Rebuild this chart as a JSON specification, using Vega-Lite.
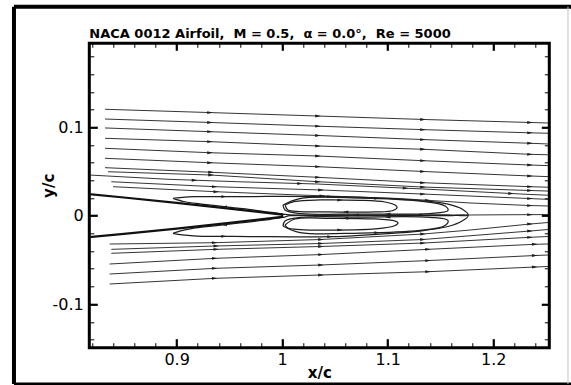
{
  "$schema": "https://vega.github.io/schema/vega-lite/v6.json",
  "width": 460,
  "height": 304.4,
  "autosize": "none",
  "padding": {"left": 89.3, "top": 43.3, "right": 21.7, "bottom": 37.3},
  "background": "#ffffff",
  "title": {
    "text": "NACA 0012 Airfoil,\u00a0 M = 0.5,\u00a0 α = 0.0°,\u00a0 Re = 5000",
    "anchor": "start",
    "frame": "group",
    "font": "DejaVu Sans",
    "fontSize": 13,
    "fontWeight": "bold",
    "color": "#000000",
    "offset": -36.4
  },
  "datasets": {
    "lines": [
      {"id": "U1", "part": "free", "i": 0, "x": 0.8321, "y": 0.1203},
      {"id": "U1", "part": "free", "i": 1, "x": 0.9316, "y": 0.1166},
      {"id": "U1", "part": "free", "i": 2, "x": 1.0340, "y": 0.1127},
      {"id": "U1", "part": "free", "i": 3, "x": 1.1335, "y": 0.1088},
      {"id": "U1", "part": "free", "i": 4, "x": 1.2349, "y": 0.1054},
      {"id": "U1", "part": "free", "i": 5, "x": 1.2520, "y": 0.1048},
      {"id": "U2", "part": "free", "i": 0, "x": 0.8321, "y": 0.1093},
      {"id": "U2", "part": "free", "i": 1, "x": 0.9316, "y": 0.1054},
      {"id": "U2", "part": "free", "i": 2, "x": 1.0340, "y": 0.1012},
      {"id": "U2", "part": "free", "i": 3, "x": 1.1335, "y": 0.0973},
      {"id": "U2", "part": "free", "i": 4, "x": 1.2349, "y": 0.0937},
      {"id": "U2", "part": "free", "i": 5, "x": 1.2520, "y": 0.0932},
      {"id": "U3", "part": "free", "i": 0, "x": 0.8321, "y": 0.0992},
      {"id": "U3", "part": "free", "i": 1, "x": 0.9316, "y": 0.0950},
      {"id": "U3", "part": "free", "i": 2, "x": 1.0340, "y": 0.0907},
      {"id": "U3", "part": "free", "i": 3, "x": 1.1335, "y": 0.0861},
      {"id": "U3", "part": "free", "i": 4, "x": 1.2349, "y": 0.0819},
      {"id": "U3", "part": "free", "i": 5, "x": 1.2520, "y": 0.0811},
      {"id": "U4", "part": "free", "i": 0, "x": 0.8321, "y": 0.0875},
      {"id": "U4", "part": "free", "i": 1, "x": 0.9316, "y": 0.0837},
      {"id": "U4", "part": "free", "i": 2, "x": 1.0340, "y": 0.0788},
      {"id": "U4", "part": "free", "i": 3, "x": 1.1335, "y": 0.0751},
      {"id": "U4", "part": "free", "i": 4, "x": 1.2349, "y": 0.0694},
      {"id": "U4", "part": "free", "i": 5, "x": 1.2520, "y": 0.0689},
      {"id": "U5", "part": "free", "i": 0, "x": 0.8321, "y": 0.0762},
      {"id": "U5", "part": "free", "i": 1, "x": 0.9316, "y": 0.0712},
      {"id": "U5", "part": "free", "i": 2, "x": 1.0340, "y": 0.0675},
      {"id": "U5", "part": "free", "i": 3, "x": 1.1335, "y": 0.0622},
      {"id": "U5", "part": "free", "i": 4, "x": 1.2349, "y": 0.0573},
      {"id": "U5", "part": "free", "i": 5, "x": 1.2520, "y": 0.0566},
      {"id": "U6", "part": "free", "i": 0, "x": 0.8321, "y": 0.0649},
      {"id": "U6", "part": "free", "i": 1, "x": 0.9316, "y": 0.0599},
      {"id": "U6", "part": "free", "i": 2, "x": 1.0340, "y": 0.0554},
      {"id": "U6", "part": "free", "i": 3, "x": 1.1335, "y": 0.0500},
      {"id": "U6", "part": "free", "i": 4, "x": 1.2349, "y": 0.0449},
      {"id": "U6", "part": "free", "i": 5, "x": 1.2520, "y": 0.0442},
      {"id": "U7", "part": "free", "i": 0, "x": 0.8321, "y": 0.0543},
      {"id": "U7", "part": "free", "i": 1, "x": 0.9326, "y": 0.0491},
      {"id": "U7", "part": "free", "i": 2, "x": 1.0340, "y": 0.0434},
      {"id": "U7", "part": "free", "i": 3, "x": 1.1335, "y": 0.0373},
      {"id": "U7", "part": "free", "i": 4, "x": 1.2349, "y": 0.0328},
      {"id": "U7", "part": "free", "i": 5, "x": 1.2520, "y": 0.0322},
      {"id": "U8", "part": "free", "i": 0, "x": 0.8349, "y": 0.0497},
      {"id": "U8", "part": "free", "i": 1, "x": 0.9326, "y": 0.0460},
      {"id": "U8", "part": "free", "i": 2, "x": 1.0340, "y": 0.0384},
      {"id": "U8", "part": "free", "i": 3, "x": 1.1335, "y": 0.0324},
      {"id": "U8", "part": "free", "i": 4, "x": 1.2349, "y": 0.0285},
      {"id": "U8", "part": "free", "i": 5, "x": 1.2520, "y": 0.0279},
      {"id": "U9", "part": "free", "i": 0, "x": 0.8172, "y": 0.0460},
      {"id": "U9", "part": "free", "i": 1, "x": 0.8918, "y": 0.0412},
      {"id": "U9", "part": "free", "i": 2, "x": 0.9581, "y": 0.0384},
      {"id": "U9", "part": "free", "i": 3, "x": 1.0340, "y": 0.0358},
      {"id": "U9", "part": "free", "i": 4, "x": 1.1335, "y": 0.0302},
      {"id": "U9", "part": "free", "i": 5, "x": 1.2349, "y": 0.0240},
      {"id": "U9", "part": "free", "i": 6, "x": 1.2520, "y": 0.0232},
      {"id": "U10", "part": "free", "i": 0, "x": 0.8381, "y": 0.0384},
      {"id": "U10", "part": "free", "i": 1, "x": 0.9361, "y": 0.0328},
      {"id": "U10", "part": "free", "i": 2, "x": 1.0368, "y": 0.0291},
      {"id": "U10", "part": "free", "i": 3, "x": 1.1335, "y": 0.0245},
      {"id": "U10", "part": "free", "i": 4, "x": 1.2349, "y": 0.0194},
      {"id": "U10", "part": "free", "i": 5, "x": 1.2520, "y": 0.0185},
      {"id": "U11", "part": "free", "i": 0, "x": 0.8397, "y": 0.0328},
      {"id": "U11", "part": "free", "i": 1, "x": 0.9376, "y": 0.0271},
      {"id": "U11", "part": "free", "i": 2, "x": 1.0169, "y": 0.0234},
      {"id": "U11", "part": "free", "i": 3, "x": 1.1117, "y": 0.0194},
      {"id": "U11", "part": "free", "i": 4, "x": 1.1781, "y": 0.0144},
      {"id": "U11", "part": "free", "i": 5, "x": 1.2349, "y": 0.0115},
      {"id": "U11", "part": "free", "i": 6, "x": 1.2520, "y": 0.0110},
      {"id": "W", "part": "free", "i": 0, "x": 1.1762, "y": 0.0008},
      {"id": "W", "part": "free", "i": 1, "x": 1.2149, "y": 0.0011},
      {"id": "W", "part": "free", "i": 2, "x": 1.2520, "y": 0.0013},
      {"id": "L1", "part": "free", "i": 0, "x": 0.8365, "y": -0.0320},
      {"id": "L1", "part": "free", "i": 1, "x": 0.9361, "y": -0.0305},
      {"id": "L1", "part": "free", "i": 2, "x": 1.0368, "y": -0.0269},
      {"id": "L1", "part": "free", "i": 3, "x": 1.1335, "y": -0.0207},
      {"id": "L1", "part": "free", "i": 4, "x": 1.1781, "y": -0.0162},
      {"id": "L1", "part": "free", "i": 5, "x": 1.2349, "y": -0.0094},
      {"id": "L1", "part": "free", "i": 6, "x": 1.2520, "y": -0.0077},
      {"id": "L2", "part": "free", "i": 0, "x": 0.8381, "y": -0.0380},
      {"id": "L2", "part": "free", "i": 1, "x": 0.9376, "y": -0.0342},
      {"id": "L2", "part": "free", "i": 2, "x": 1.0368, "y": -0.0314},
      {"id": "L2", "part": "free", "i": 3, "x": 1.1335, "y": -0.0269},
      {"id": "L2", "part": "free", "i": 4, "x": 1.2349, "y": -0.0173},
      {"id": "L2", "part": "free", "i": 5, "x": 1.2520, "y": -0.0156},
      {"id": "L3", "part": "free", "i": 0, "x": 0.8381, "y": -0.0425},
      {"id": "L3", "part": "free", "i": 1, "x": 0.9376, "y": -0.0380},
      {"id": "L3", "part": "free", "i": 2, "x": 1.0368, "y": -0.0348},
      {"id": "L3", "part": "free", "i": 3, "x": 1.1335, "y": -0.0309},
      {"id": "L3", "part": "free", "i": 4, "x": 1.2349, "y": -0.0244},
      {"id": "L3", "part": "free", "i": 5, "x": 1.2520, "y": -0.0235},
      {"id": "L4", "part": "free", "i": 0, "x": 0.8365, "y": -0.0546},
      {"id": "L4", "part": "free", "i": 1, "x": 0.9361, "y": -0.0482},
      {"id": "L4", "part": "free", "i": 2, "x": 1.0368, "y": -0.0439},
      {"id": "L4", "part": "free", "i": 3, "x": 1.1383, "y": -0.0380},
      {"id": "L4", "part": "free", "i": 4, "x": 1.2394, "y": -0.0323},
      {"id": "L4", "part": "free", "i": 5, "x": 1.2520, "y": -0.0320},
      {"id": "L5", "part": "free", "i": 0, "x": 0.8365, "y": -0.0659},
      {"id": "L5", "part": "free", "i": 1, "x": 0.9361, "y": -0.0595},
      {"id": "L5", "part": "free", "i": 2, "x": 1.0368, "y": -0.0557},
      {"id": "L5", "part": "free", "i": 3, "x": 1.1383, "y": -0.0507},
      {"id": "L5", "part": "free", "i": 4, "x": 1.2394, "y": -0.0450},
      {"id": "L5", "part": "free", "i": 5, "x": 1.2520, "y": -0.0444},
      {"id": "L6", "part": "free", "i": 0, "x": 0.8365, "y": -0.0772},
      {"id": "L6", "part": "free", "i": 1, "x": 0.9361, "y": -0.0708},
      {"id": "L6", "part": "free", "i": 2, "x": 1.0368, "y": -0.0670},
      {"id": "L6", "part": "free", "i": 3, "x": 1.1383, "y": -0.0633},
      {"id": "L6", "part": "free", "i": 4, "x": 1.2394, "y": -0.0580},
      {"id": "L6", "part": "free", "i": 5, "x": 1.2520, "y": -0.0574},
      {"id": "SU", "part": "loop", "i": 0, "x": 0.8965, "y": 0.0197},
      {"id": "SU", "part": "loop", "i": 1, "x": 0.9079, "y": 0.0211},
      {"id": "SU", "part": "loop", "i": 2, "x": 0.9193, "y": 0.0215},
      {"id": "SU", "part": "loop", "i": 3, "x": 0.9695, "y": 0.0217},
      {"id": "SU", "part": "loop", "i": 4, "x": 1.0454, "y": 0.0215},
      {"id": "SU", "part": "loop", "i": 5, "x": 1.0928, "y": 0.0200},
      {"id": "SU", "part": "loop", "i": 6, "x": 1.1307, "y": 0.0172},
      {"id": "SU", "part": "loop", "i": 7, "x": 1.1572, "y": 0.0132},
      {"id": "SU", "part": "loop", "i": 8, "x": 1.1705, "y": 0.0076},
      {"id": "SU", "part": "loop", "i": 9, "x": 1.1762, "y": 0.0008},
      {"id": "SU", "part": "loop", "i": 10, "x": 1.1572, "y": 0.0010},
      {"id": "SU", "part": "loop", "i": 11, "x": 1.0928, "y": 0.0008},
      {"id": "SU", "part": "loop", "i": 12, "x": 1.0454, "y": 0.0008},
      {"id": "SU", "part": "loop", "i": 13, "x": 1.0074, "y": 0.0010},
      {"id": "SU", "part": "loop", "i": 14, "x": 1.0008, "y": 0.0019},
      {"id": "SU", "part": "loop", "i": 15, "x": 0.9695, "y": 0.0070},
      {"id": "SU", "part": "loop", "i": 16, "x": 0.9221, "y": 0.0133},
      {"id": "SU", "part": "loop", "i": 17, "x": 0.9079, "y": 0.0158},
      {"id": "SU", "part": "loop", "i": 18, "x": 0.8965, "y": 0.0197},
      {"id": "SL", "part": "loop", "i": 0, "x": 0.8965, "y": -0.0199},
      {"id": "SL", "part": "loop", "i": 1, "x": 0.9079, "y": -0.0220},
      {"id": "SL", "part": "loop", "i": 2, "x": 0.9193, "y": -0.0230},
      {"id": "SL", "part": "loop", "i": 3, "x": 0.9695, "y": -0.0235},
      {"id": "SL", "part": "loop", "i": 4, "x": 1.0454, "y": -0.0237},
      {"id": "SL", "part": "loop", "i": 5, "x": 1.0928, "y": -0.0207},
      {"id": "SL", "part": "loop", "i": 6, "x": 1.1307, "y": -0.0173},
      {"id": "SL", "part": "loop", "i": 7, "x": 1.1572, "y": -0.0122},
      {"id": "SL", "part": "loop", "i": 8, "x": 1.1705, "y": -0.0060},
      {"id": "SL", "part": "loop", "i": 9, "x": 1.1762, "y": 0.0002},
      {"id": "SL", "part": "loop", "i": 10, "x": 1.1572, "y": 0.0000},
      {"id": "SL", "part": "loop", "i": 11, "x": 1.0928, "y": 0.0002},
      {"id": "SL", "part": "loop", "i": 12, "x": 1.0454, "y": 0.0002},
      {"id": "SL", "part": "loop", "i": 13, "x": 1.0074, "y": 0.0000},
      {"id": "SL", "part": "loop", "i": 14, "x": 1.0008, "y": -0.0019},
      {"id": "SL", "part": "loop", "i": 15, "x": 0.9695, "y": -0.0070},
      {"id": "SL", "part": "loop", "i": 16, "x": 0.9221, "y": -0.0133},
      {"id": "SL", "part": "loop", "i": 17, "x": 0.9079, "y": -0.0160},
      {"id": "SL", "part": "loop", "i": 18, "x": 0.8965, "y": -0.0199},
      {"id": "VU", "part": "loop", "i": 0, "x": 1.0027, "y": 0.0121},
      {"id": "VU", "part": "loop", "i": 1, "x": 1.0122, "y": 0.0161},
      {"id": "VU", "part": "loop", "i": 2, "x": 1.0359, "y": 0.0178},
      {"id": "VU", "part": "loop", "i": 3, "x": 1.0738, "y": 0.0174},
      {"id": "VU", "part": "loop", "i": 4, "x": 1.0975, "y": 0.0155},
      {"id": "VU", "part": "loop", "i": 5, "x": 1.1070, "y": 0.0121},
      {"id": "VU", "part": "loop", "i": 6, "x": 1.1089, "y": 0.0093},
      {"id": "VU", "part": "loop", "i": 7, "x": 1.1051, "y": 0.0059},
      {"id": "VU", "part": "loop", "i": 8, "x": 1.0880, "y": 0.0042},
      {"id": "VU", "part": "loop", "i": 9, "x": 1.0454, "y": 0.0042},
      {"id": "VU", "part": "loop", "i": 10, "x": 1.0169, "y": 0.0047},
      {"id": "VU", "part": "loop", "i": 11, "x": 1.0055, "y": 0.0064},
      {"id": "VU", "part": "loop", "i": 12, "x": 1.0027, "y": 0.0121},
      {"id": "MU", "part": "loop", "i": 0, "x": 1.0008, "y": 0.0121},
      {"id": "MU", "part": "loop", "i": 1, "x": 1.0169, "y": 0.0194},
      {"id": "MU", "part": "loop", "i": 2, "x": 1.0738, "y": 0.0200},
      {"id": "MU", "part": "loop", "i": 3, "x": 1.1307, "y": 0.0165},
      {"id": "MU", "part": "loop", "i": 4, "x": 1.1544, "y": 0.0110},
      {"id": "MU", "part": "loop", "i": 5, "x": 1.1572, "y": 0.0059},
      {"id": "MU", "part": "loop", "i": 6, "x": 1.1402, "y": 0.0025},
      {"id": "MU", "part": "loop", "i": 7, "x": 1.0738, "y": 0.0019},
      {"id": "MU", "part": "loop", "i": 8, "x": 1.0169, "y": 0.0025},
      {"id": "MU", "part": "loop", "i": 9, "x": 1.0027, "y": 0.0064},
      {"id": "MU", "part": "loop", "i": 10, "x": 1.0008, "y": 0.0121},
      {"id": "VL", "part": "loop", "i": 0, "x": 1.0027, "y": -0.0105},
      {"id": "VL", "part": "loop", "i": 1, "x": 1.0122, "y": -0.0037},
      {"id": "VL", "part": "loop", "i": 2, "x": 1.0454, "y": -0.0029},
      {"id": "VL", "part": "loop", "i": 3, "x": 1.0880, "y": -0.0037},
      {"id": "VL", "part": "loop", "i": 4, "x": 1.1070, "y": -0.0060},
      {"id": "VL", "part": "loop", "i": 5, "x": 1.1098, "y": -0.0077},
      {"id": "VL", "part": "loop", "i": 6, "x": 1.1070, "y": -0.0111},
      {"id": "VL", "part": "loop", "i": 7, "x": 1.0880, "y": -0.0150},
      {"id": "VL", "part": "loop", "i": 8, "x": 1.0454, "y": -0.0162},
      {"id": "VL", "part": "loop", "i": 9, "x": 1.0169, "y": -0.0156},
      {"id": "VL", "part": "loop", "i": 10, "x": 1.0055, "y": -0.0139},
      {"id": "VL", "part": "loop", "i": 11, "x": 1.0027, "y": -0.0105},
      {"id": "ML", "part": "loop", "i": 0, "x": 1.0008, "y": -0.0116},
      {"id": "ML", "part": "loop", "i": 1, "x": 1.0169, "y": -0.0190},
      {"id": "ML", "part": "loop", "i": 2, "x": 1.0738, "y": -0.0196},
      {"id": "ML", "part": "loop", "i": 3, "x": 1.1307, "y": -0.0166},
      {"id": "ML", "part": "loop", "i": 4, "x": 1.1544, "y": -0.0111},
      {"id": "ML", "part": "loop", "i": 5, "x": 1.1572, "y": -0.0054},
      {"id": "ML", "part": "loop", "i": 6, "x": 1.1402, "y": -0.0018},
      {"id": "ML", "part": "loop", "i": 7, "x": 1.0738, "y": -0.0015},
      {"id": "ML", "part": "loop", "i": 8, "x": 1.0169, "y": -0.0020},
      {"id": "ML", "part": "loop", "i": 9, "x": 1.0027, "y": -0.0060},
      {"id": "ML", "part": "loop", "i": 10, "x": 1.0008, "y": -0.0116},
      {"id": "FOIL", "part": "airfoil", "i": 0, "x": 0.80, "y": 0.0262},
      {"id": "FOIL", "part": "airfoil", "i": 1, "x": 0.85, "y": 0.0206},
      {"id": "FOIL", "part": "airfoil", "i": 2, "x": 0.90, "y": 0.0145},
      {"id": "FOIL", "part": "airfoil", "i": 3, "x": 0.95, "y": 0.0081},
      {"id": "FOIL", "part": "airfoil", "i": 4, "x": 1.00, "y": 0.0013},
      {"id": "FOIL", "part": "airfoil", "i": 5, "x": 1.00, "y": -0.0013},
      {"id": "FOIL", "part": "airfoil", "i": 6, "x": 0.95, "y": -0.0081},
      {"id": "FOIL", "part": "airfoil", "i": 7, "x": 0.90, "y": -0.0145},
      {"id": "FOIL", "part": "airfoil", "i": 8, "x": 0.85, "y": -0.0206},
      {"id": "FOIL", "part": "airfoil", "i": 9, "x": 0.80, "y": -0.0262}
    ],
    "arrows": [
      {"x": 0.9316, "y": 0.1166, "dir": "right"}, {"x": 1.0340, "y": 0.1127, "dir": "right"}, {"x": 1.1335, "y": 0.1088, "dir": "right"}, {"x": 1.2349, "y": 0.1054, "dir": "right"},
      {"x": 0.9316, "y": 0.1054, "dir": "right"}, {"x": 1.0340, "y": 0.1012, "dir": "right"}, {"x": 1.1335, "y": 0.0973, "dir": "right"}, {"x": 1.2349, "y": 0.0937, "dir": "right"},
      {"x": 0.9316, "y": 0.0950, "dir": "right"}, {"x": 1.0340, "y": 0.0907, "dir": "right"}, {"x": 1.1335, "y": 0.0861, "dir": "right"}, {"x": 1.2349, "y": 0.0819, "dir": "right"},
      {"x": 0.9316, "y": 0.0837, "dir": "right"}, {"x": 1.0340, "y": 0.0788, "dir": "right"}, {"x": 1.1335, "y": 0.0751, "dir": "right"}, {"x": 1.2349, "y": 0.0694, "dir": "right"},
      {"x": 0.9316, "y": 0.0712, "dir": "right"}, {"x": 1.0340, "y": 0.0675, "dir": "right"}, {"x": 1.1335, "y": 0.0622, "dir": "right"}, {"x": 1.2349, "y": 0.0573, "dir": "right"},
      {"x": 0.9316, "y": 0.0599, "dir": "right"}, {"x": 1.0340, "y": 0.0554, "dir": "right"}, {"x": 1.1335, "y": 0.0500, "dir": "right"}, {"x": 1.2349, "y": 0.0449, "dir": "right"},
      {"x": 0.9326, "y": 0.0491, "dir": "right"}, {"x": 1.0340, "y": 0.0434, "dir": "right"}, {"x": 1.1335, "y": 0.0373, "dir": "right"}, {"x": 1.2349, "y": 0.0328, "dir": "right"},
      {"x": 0.9326, "y": 0.0460, "dir": "right"}, {"x": 1.0340, "y": 0.0384, "dir": "right"}, {"x": 1.1335, "y": 0.0324, "dir": "right"}, {"x": 1.2349, "y": 0.0285, "dir": "right"},
      {"x": 0.9170, "y": 0.0401, "dir": "right"}, {"x": 1.0170, "y": 0.0364, "dir": "right"}, {"x": 1.1170, "y": 0.0311, "dir": "right"}, {"x": 1.2170, "y": 0.0251, "dir": "right"},
      {"x": 0.9361, "y": 0.0328, "dir": "right"}, {"x": 1.0368, "y": 0.0291, "dir": "right"}, {"x": 1.1335, "y": 0.0245, "dir": "right"}, {"x": 1.2349, "y": 0.0194, "dir": "right"},
      {"x": 0.9376, "y": 0.0271, "dir": "right"}, {"x": 1.0380, "y": 0.0225, "dir": "right"}, {"x": 1.1380, "y": 0.0174, "dir": "right"}, {"x": 1.2349, "y": 0.0115, "dir": "right"},
      {"x": 1.2349, "y": 0.0012, "dir": "right"},
      {"x": 0.9361, "y": -0.0305, "dir": "right"}, {"x": 1.0368, "y": -0.0269, "dir": "right"}, {"x": 1.1335, "y": -0.0207, "dir": "right"}, {"x": 1.2349, "y": -0.0094, "dir": "right"},
      {"x": 0.9376, "y": -0.0342, "dir": "right"}, {"x": 1.0368, "y": -0.0314, "dir": "right"}, {"x": 1.1335, "y": -0.0269, "dir": "right"}, {"x": 1.2349, "y": -0.0173, "dir": "right"},
      {"x": 0.9376, "y": -0.0380, "dir": "right"}, {"x": 1.0368, "y": -0.0348, "dir": "right"}, {"x": 1.1335, "y": -0.0309, "dir": "right"}, {"x": 1.2349, "y": -0.0244, "dir": "right"},
      {"x": 0.9361, "y": -0.0482, "dir": "right"}, {"x": 1.0368, "y": -0.0439, "dir": "right"}, {"x": 1.1383, "y": -0.0380, "dir": "right"}, {"x": 1.2394, "y": -0.0323, "dir": "right"},
      {"x": 0.9361, "y": -0.0595, "dir": "right"}, {"x": 1.0368, "y": -0.0557, "dir": "right"}, {"x": 1.1383, "y": -0.0507, "dir": "right"}, {"x": 1.2394, "y": -0.0450, "dir": "right"},
      {"x": 0.9361, "y": -0.0708, "dir": "right"}, {"x": 1.0368, "y": -0.0670, "dir": "right"}, {"x": 1.1383, "y": -0.0633, "dir": "right"}, {"x": 1.2394, "y": -0.0580, "dir": "right"},
      {"x": 0.9450, "y": 0.0216, "dir": "right"}, {"x": 1.0454, "y": 0.0215, "dir": "right"},
      {"x": 1.0700, "y": 0.0008, "dir": "left"}, {"x": 1.1300, "y": 0.0009, "dir": "left"},
      {"x": 0.9450, "y": 0.0100, "dir": "left"},
      {"x": 0.9450, "y": -0.0233, "dir": "right"}, {"x": 1.0454, "y": -0.0237, "dir": "right"},
      {"x": 1.0300, "y": 0.0002, "dir": "left"},
      {"x": 0.9450, "y": -0.0102, "dir": "left"},
      {"x": 1.0550, "y": 0.0177, "dir": "right"}, {"x": 1.0600, "y": 0.0042, "dir": "left"},
      {"x": 1.0600, "y": -0.0029, "dir": "left"}, {"x": 1.0550, "y": -0.0161, "dir": "right"},
      {"x": 1.0900, "y": 0.0197, "dir": "right"}, {"x": 1.1000, "y": 0.0020, "dir": "left"},
      {"x": 1.0900, "y": -0.0192, "dir": "right"}, {"x": 1.1000, "y": -0.0016, "dir": "left"}
    ]
  },
  "layer": [
    {
      "data": {"name": "lines"},
      "transform": [{"filter": "datum.part === 'free'"}],
      "mark": {"type": "line", "clip": true, "stroke": "#1e1e1e", "strokeWidth": 0.9},
      "encoding": {
        "x": {
          "field": "x", "type": "quantitative",
          "scale": {"domain": [0.8172, 1.2532], "zero": false, "nice": false},
          "axis": {
            "orient": "bottom",
            "title": "x/c",
            "values": [0.82, 0.84, 0.86, 0.88, 0.9, 0.92, 0.94, 0.96, 0.98, 1, 1.02, 1.04, 1.06, 1.08, 1.1, 1.12, 1.14, 1.16, 1.18, 1.2, 1.22, 1.24],
            "labelExpr": "abs(datum.value * 10 - round(datum.value * 10)) < 0.001 ? format(datum.value, '~g') : ''",
            "tickSize": {"condition": {"test": "abs(datum.value * 10 - round(datum.value * 10)) < 0.001", "value": -9}, "value": -5},
            "tickWidth": {"condition": {"test": "abs(datum.value * 10 - round(datum.value * 10)) < 0.001", "value": 2.2}, "value": 1},
            "labelPadding": 13,
            "titlePadding": -6
          }
        },
        "y": {
          "field": "y", "type": "quantitative",
          "scale": {"domain": [-0.1492, 0.1949], "zero": false, "nice": false},
          "axis": {
            "orient": "left",
            "title": "y/c",
            "values": [-0.14, -0.12, -0.1, -0.08, -0.06, -0.04, -0.02, 0, 0.02, 0.04, 0.06, 0.08, 0.1, 0.12, 0.14, 0.16, 0.18],
            "labelExpr": "abs(datum.value * 10 - round(datum.value * 10)) < 0.001 ? (datum.value < 0 ? '-' + format(-datum.value, '~g') : format(datum.value, '~g')) : ''",
            "tickSize": {"condition": {"test": "abs(datum.value * 10 - round(datum.value * 10)) < 0.001", "value": -8}, "value": -4.5},
            "tickWidth": {"condition": {"test": "abs(datum.value * 10 - round(datum.value * 10)) < 0.001", "value": 2.2}, "value": 1},
            "labelPadding": 14,
            "titlePadding": -4,
            "titleY": 142
          }
        },
        "detail": {"field": "id"},
        "order": {"field": "i", "type": "quantitative"}
      }
    },
    {
      "data": {"name": "lines"},
      "transform": [{"filter": "datum.part === 'loop'"}],
      "mark": {"type": "line", "clip": true, "stroke": "#1e1e1e", "strokeWidth": 1.25, "interpolate": "catmull-rom"},
      "encoding": {
        "x": {"field": "x", "type": "quantitative", "scale": {"domain": [0.8172, 1.2532], "zero": false, "nice": false}, "axis": null},
        "y": {"field": "y", "type": "quantitative", "scale": {"domain": [-0.1492, 0.1949], "zero": false, "nice": false}, "axis": null},
        "detail": {"field": "id"},
        "order": {"field": "i", "type": "quantitative"}
      }
    },
    {
      "data": {"name": "lines"},
      "transform": [{"filter": "datum.part === 'airfoil'"}],
      "mark": {"type": "line", "clip": true, "stroke": "#111111", "strokeWidth": 2.2},
      "encoding": {
        "x": {
          "field": "x", "type": "quantitative",
          "scale": {"domain": [0.8172, 1.2532], "zero": false, "nice": false},
          "axis": {
            "orient": "top",
            "title": null,
            "labels": false,
            "values": [0.82, 0.84, 0.86, 0.88, 0.9, 0.92, 0.94, 0.96, 0.98, 1, 1.02, 1.04, 1.06, 1.08, 1.1, 1.12, 1.14, 1.16, 1.18, 1.2, 1.22, 1.24],
            "tickSize": {"condition": {"test": "abs(datum.value * 10 - round(datum.value * 10)) < 0.001", "value": -7}, "value": -4},
            "tickWidth": {"condition": {"test": "abs(datum.value * 10 - round(datum.value * 10)) < 0.001", "value": 2.2}, "value": 1}
          }
        },
        "y": {
          "field": "y", "type": "quantitative",
          "scale": {"domain": [-0.1492, 0.1949], "zero": false, "nice": false},
          "axis": {
            "orient": "right",
            "title": null,
            "labels": false,
            "values": [-0.14, -0.12, -0.1, -0.08, -0.06, -0.04, -0.02, 0, 0.02, 0.04, 0.06, 0.08, 0.1, 0.12, 0.14, 0.16, 0.18],
            "tickSize": {"condition": {"test": "abs(datum.value * 10 - round(datum.value * 10)) < 0.001", "value": -8}, "value": -5},
            "tickWidth": {"condition": {"test": "abs(datum.value * 10 - round(datum.value * 10)) < 0.001", "value": 2.2}, "value": 1}
          }
        },
        "detail": {"field": "id"},
        "order": {"field": "i", "type": "quantitative"}
      }
    },
    {
      "data": {"name": "arrows"},
      "mark": {"type": "point", "clip": true, "filled": true, "color": "#1e1e1e", "size": 32, "opacity": 1, "strokeWidth": 0},
      "encoding": {
        "x": {"field": "x", "type": "quantitative", "scale": {"domain": [0.8172, 1.2532], "zero": false, "nice": false}, "axis": null},
        "y": {"field": "y", "type": "quantitative", "scale": {"domain": [-0.1492, 0.1949], "zero": false, "nice": false}, "axis": null},
        "shape": {
          "field": "dir", "type": "nominal",
          "scale": {"domain": ["right", "left"], "range": ["M-1,-0.5L1,0L-1,0.5Z", "M1,-0.5L-1,0L1,0.5Z"]},
          "legend": null
        }
      }
    },
    {
      "data": {"values": [{}]},
      "mark": {"type": "rule", "stroke": "#000000", "strokeWidth": 4},
      "encoding": {
        "x": {"datum": 0.7458, "type": "quantitative", "scale": {"domain": [0.8172, 1.2532], "zero": false, "nice": false}, "axis": null},
        "y": {"datum": -0.1903, "type": "quantitative", "scale": {"domain": [-0.1492, 0.1949], "zero": false, "nice": false}, "axis": null},
        "y2": {"datum": 0.2363}
      }
    },
    {
      "data": {"values": [{}]},
      "mark": {"type": "rule", "stroke": "#000000", "strokeWidth": 4},
      "encoding": {
        "x": {"datum": 0.7458, "type": "quantitative", "scale": {"domain": [0.8172, 1.2532], "zero": false, "nice": false}, "axis": null},
        "x2": {"datum": 1.2760},
        "y": {"datum": 0.2363, "type": "quantitative", "scale": {"domain": [-0.1492, 0.1949], "zero": false, "nice": false}, "axis": null}
      }
    },
    {
      "data": {"values": [{}]},
      "mark": {"type": "rule", "stroke": "#000000", "strokeWidth": 3},
      "encoding": {
        "x": {"datum": 0.7458, "type": "quantitative", "scale": {"domain": [0.8172, 1.2532], "zero": false, "nice": false}, "axis": null},
        "x2": {"datum": 1.2760},
        "y": {"datum": -0.1903, "type": "quantitative", "scale": {"domain": [-0.1492, 0.1949], "zero": false, "nice": false}, "axis": null}
      }
    },
    {
      "data": {"values": [{}]},
      "mark": {"type": "rule", "stroke": "#c4c4c4", "strokeWidth": 1},
      "encoding": {
        "x": {"datum": 1.2709, "type": "quantitative", "scale": {"domain": [0.8172, 1.2532], "zero": false, "nice": false}, "axis": null},
        "y": {"datum": -0.1903, "type": "quantitative", "scale": {"domain": [-0.1492, 0.1949], "zero": false, "nice": false}, "axis": null},
        "y2": {"datum": 0.2363}
      }
    }
  ],
  "config": {
    "view": {"stroke": "#000000", "strokeWidth": 3},
    "axis": {
      "domain": false,
      "grid": false,
      "tickColor": "#000000",
      "labelFont": "DejaVu Sans",
      "labelFontSize": 16,
      "labelColor": "#000000",
      "labelOverlap": false,
      "labelFlush": false,
      "labelBound": false,
      "titleFont": "DejaVu Sans",
      "titleFontSize": 15,
      "titleFontWeight": "bold",
      "titleColor": "#000000"
    }
  }
}
